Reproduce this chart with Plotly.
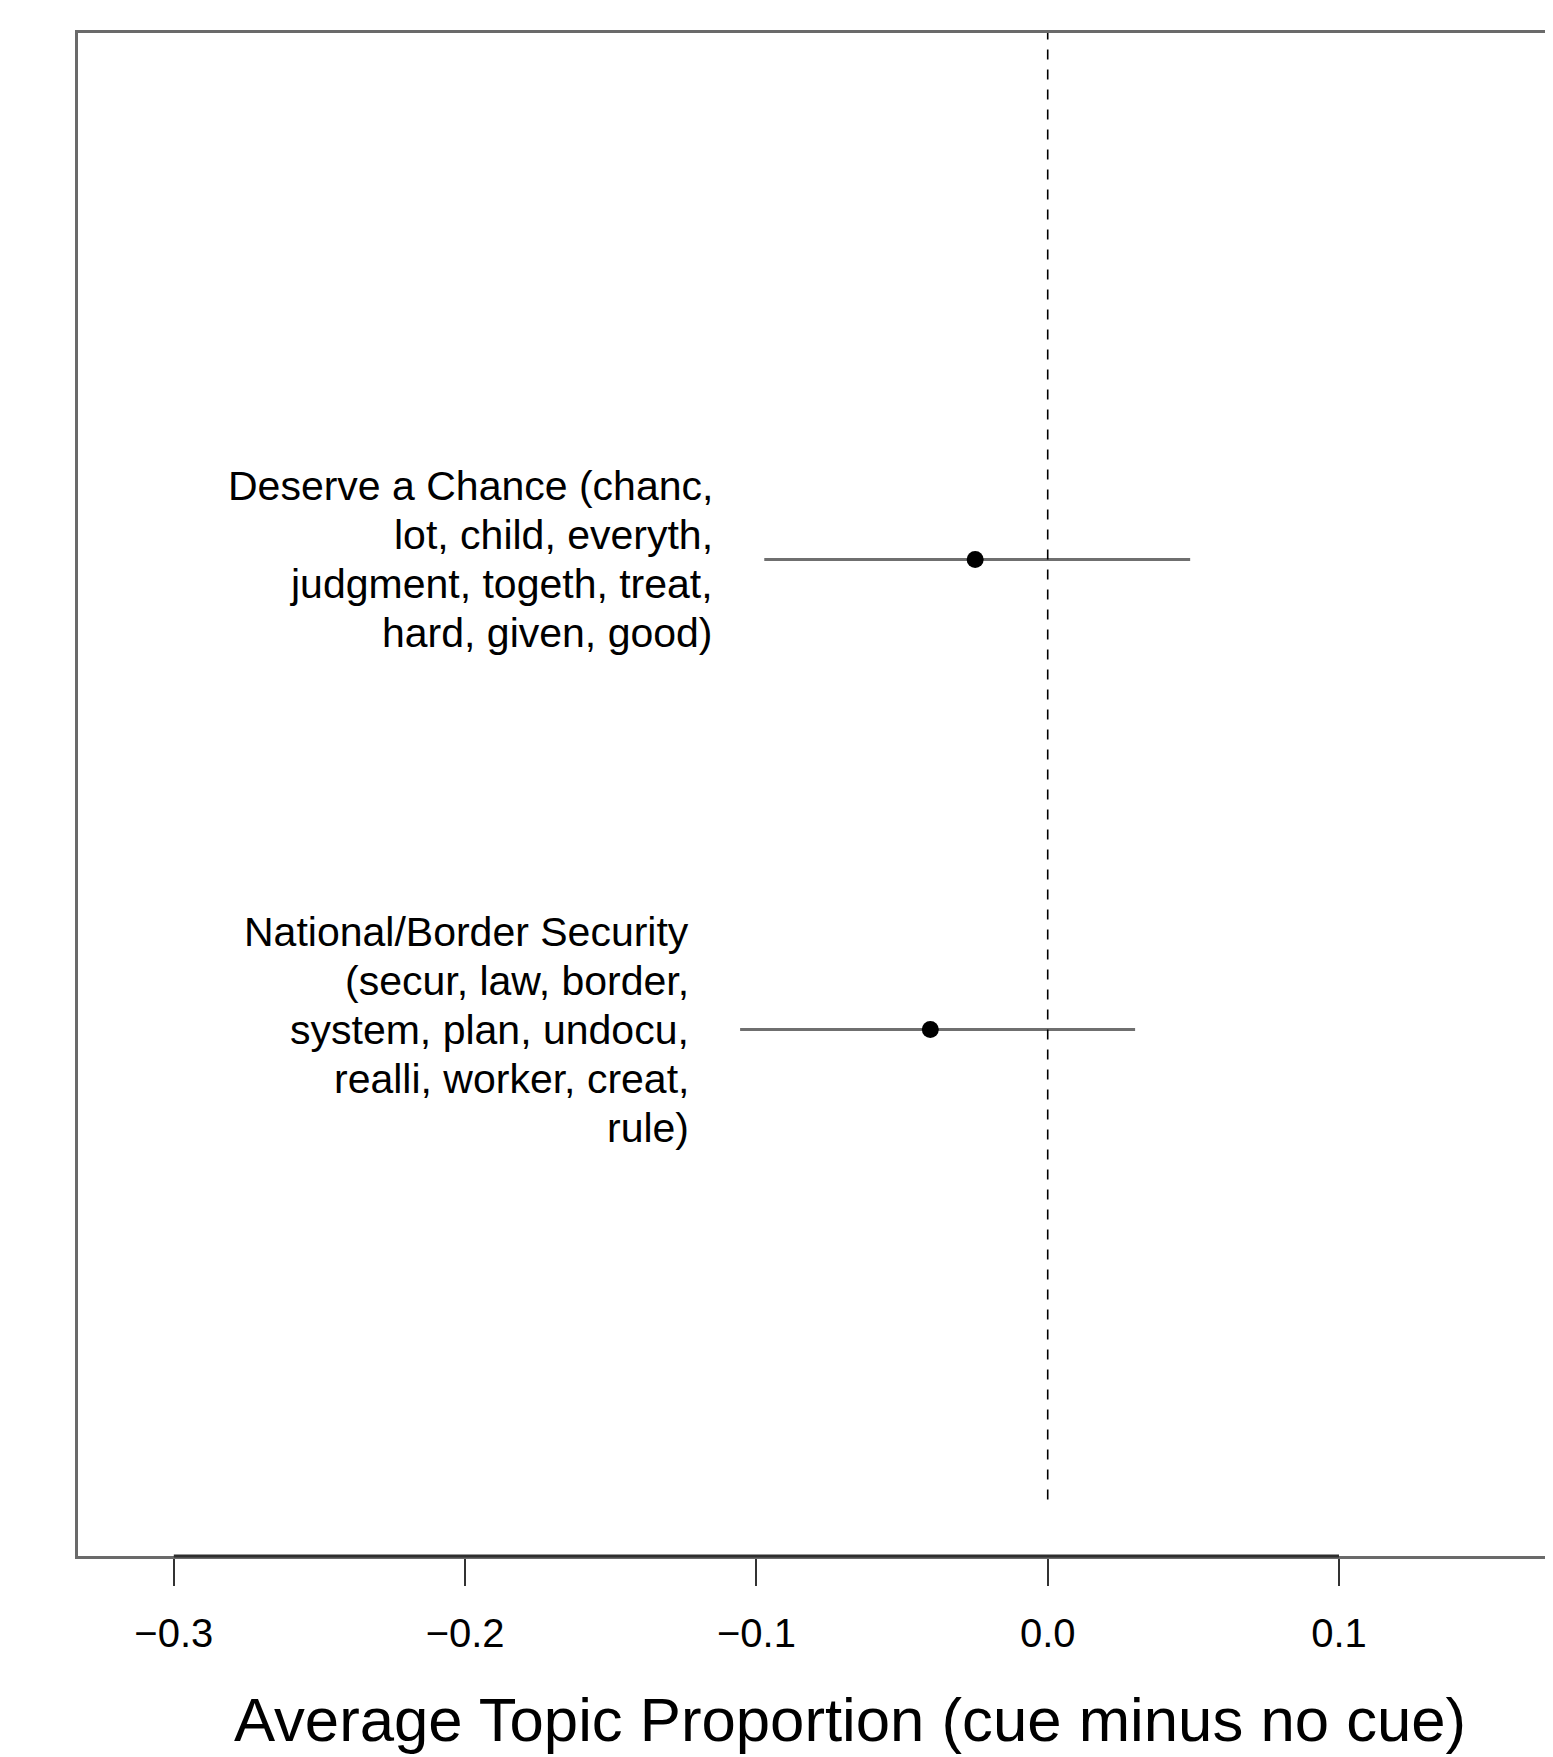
import plotly.graph_objects as go

# ---- data ----
topic_lines = [
    ["Deserve a Chance (chanc,", "lot, child, everyth,", "judgment, togeth, treat,", "hard, given, good)"],
    ["National/Border Security", "(secur, law, border,", "system, plan, undocu,", "realli, worker, creat,", "rule)"],
]
y_pos = [2, 1]
means = [-0.0249, -0.0403]
lower = [-0.0973, -0.1056]
upper = [0.0489, 0.0300]
tick_vals = [-0.3, -0.2, -0.1, 0.0, 0.1]
tick_text = ["\u22120.3", "\u22120.2", "\u22120.1", "0.0", "0.1"]
x_title = "Average Topic Proportion (cue minus no cue)"
y_lim = [0, 3]

FONT = "Liberation Sans, Arial, Helvetica, sans-serif"
fig = go.Figure()

# confidence intervals
for yy, lo, hi in zip(y_pos, lower, upper):
    fig.add_trace(go.Scatter(x=[lo, hi], y=[yy, yy], mode="lines",
                             line=dict(color="#6f6f6f", width=3), showlegend=False,
                             hoverinfo="skip"))
# points
fig.add_trace(go.Scatter(x=means, y=y_pos, mode="markers",
                         marker=dict(color="black", size=17, line=dict(width=0)),
                         showlegend=False))

ext = 0.04 * (y_lim[1] - y_lim[0])
y_range = [y_lim[0] - ext, y_lim[1] + ext]

# dashed zero line
fig.add_shape(type="line", xref="x", yref="y", x0=0, x1=0, y0=y_lim[0], y1=y_range[1],
              line=dict(color="black", width=1.6, dash="10px,10px"))

# darker axis segment between first and last tick
fig.add_shape(type="line", xref="x", yref="paper", x0=min(tick_vals), x1=max(tick_vals),
              y0=0, y1=0, line=dict(color="#2e2e2e", width=3))

# topic labels
LINE_H = 49
for lines, yy, lo in zip(topic_lines, y_pos, lower):
    n = len(lines)
    for i, t in enumerate(lines):
        fig.add_annotation(x=lo, y=yy, xref="x", yref="y", text=t, showarrow=False,
                           xanchor="right", yanchor="middle", xshift=-49,
                           yshift=((n - 1) / 2 - i) * LINE_H,
                           font=dict(family=FONT, size=41, color="black"))

# x title
fig.add_annotation(x=0.5235, y=-0.1075, xref="paper", yref="paper", text=x_title,
                   showarrow=False, xanchor="center", yanchor="middle",
                   font=dict(family=FONT, size=61.7, color="black"))

x_range = [-0.33289, 0.17346]
fig.update_layout(
    width=1545, height=1749,
    margin=dict(l=70, r=0, t=25, b=201),
    paper_bgcolor="white", plot_bgcolor="white",
    font=dict(family=FONT, color="black"),
    xaxis=dict(range=x_range, tickvals=tick_vals, ticktext=tick_text,
               showgrid=False, zeroline=False, showline=True, linecolor="#6a6a6a",
               linewidth=2.5, mirror=True, ticks="outside", ticklen=27, tickwidth=2,
               tickcolor="#333333", tickfont=dict(family=FONT, size=40, color="black"),
               ticklabelstandoff=13),
    yaxis=dict(range=y_range, showgrid=False, zeroline=False, showline=True,
               linecolor="#6a6a6a", linewidth=2.5, mirror=False, showticklabels=False,
               ticks=""),
)

fig.write_html("out.html")
